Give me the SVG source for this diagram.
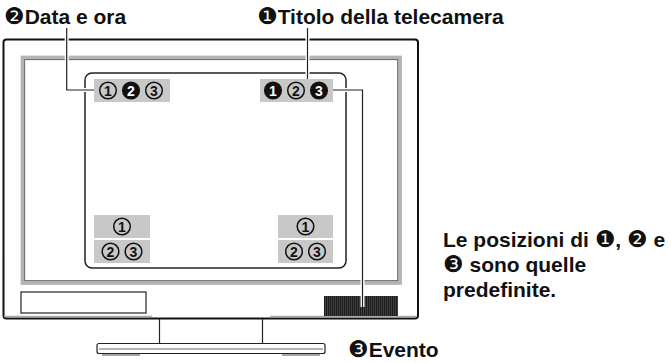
<svg xmlns="http://www.w3.org/2000/svg" xmlns:xlink="http://www.w3.org/1999/xlink" width="671" height="363" viewBox="0 0 671 363">
<style>
.lbl{font-family:"Liberation Sans",Arial,sans-serif;font-weight:bold;font-size:21px;fill:#111}
.sym{font-family:"DejaVu Sans",sans-serif;font-weight:normal;font-size:23px}
.box{fill:#c8c8c8}
.frame{fill:none;stroke:#111;stroke-width:2}
.thin{fill:none;stroke:#222;stroke-width:1.2}
.halo{fill:none;stroke:#fff;stroke-width:4}
.conn{fill:none;stroke:#222;stroke-width:1.2}
.co{fill:none;stroke:#111;stroke-width:1.5}
.cf{fill:#111;stroke:#111;stroke-width:1.5}
.d{font-family:"Liberation Sans",Arial,sans-serif;font-weight:bold;font-size:14px;text-anchor:middle;fill:#111}
.dw{font-family:"Liberation Sans",Arial,sans-serif;font-weight:bold;font-size:14px;text-anchor:middle;fill:#fff}
</style>
<defs>
<pattern id="grill" width="2" height="4" patternUnits="userSpaceOnUse">
<rect width="2" height="4" fill="#1c1c1c"/>
<rect x="1.4" width="0.5" height="4" fill="#666"/>
</pattern>
<path id="c1" d="M66.7,28 V90 H94"/>
<path id="c2" d="M307.5,28 V79"/>
<path id="c3" d="M333,90 H362.5 V307"/>
</defs>

<g id="monitor">
<rect x="3.5" y="39.5" width="414.5" height="279" rx="3" class="frame"/>
<path d="M4,316.5 H152 M270,316.5 H417" stroke="#aaa" stroke-width="1.5" fill="none"/>
<rect x="22.5" y="57.5" width="377.5" height="225.5" fill="none" stroke="#b4b4b4" stroke-width="3.8"/>
<rect x="24.7" y="59.7" width="373" height="221" fill="none" stroke="#444" stroke-width="0.8"/>
<rect x="85" y="73" width="261" height="195" rx="7" fill="none" stroke="#222" stroke-width="1.5"/>
<rect x="21" y="292" width="125" height="21" class="thin"/>
<rect x="324" y="296" width="74" height="20" fill="url(#grill)"/>
</g>

<g id="stand">
<path d="M159.5,319 V343.5 M262.5,319 V343.5" class="thin"/>
<rect x="97" y="343.5" width="228" height="10" rx="2" fill="#fff" stroke="#222" stroke-width="1.2"/>
<line x1="99" y1="349" x2="323" y2="349" stroke="#999" stroke-width="1.5"/>
<path d="M102,355 H140 M282,355 H320" stroke="#888" stroke-width="1.5" fill="none"/>
</g>

<g id="pos-top-left">
<rect x="94" y="79" width="76" height="23" class="box"/>
<circle cx="108" cy="90.5" r="8.3" class="co"/><text x="108" y="95.5" class="d">1</text>
<circle cx="131" cy="90.5" r="8.3" class="cf"/><text x="131" y="95.5" class="dw">2</text>
<circle cx="154" cy="90.5" r="8.3" class="co"/><text x="154" y="95.5" class="d">3</text>
</g>
<g id="pos-top-right">
<rect x="260" y="79" width="73" height="23" class="box"/>
<circle cx="273" cy="90.5" r="8.3" class="cf"/><text x="273" y="95.5" class="dw">1</text>
<circle cx="296" cy="90.5" r="8.3" class="co"/><text x="296" y="95.5" class="d">2</text>
<circle cx="319" cy="90.5" r="8.3" class="cf"/><text x="319" y="95.5" class="dw">3</text>
</g>
<g id="pos-bottom-left">
<rect x="94" y="215" width="56" height="23" class="box"/>
<rect x="94" y="240" width="56" height="23" class="box"/>
<circle cx="122" cy="226.5" r="8.3" class="co"/><text x="122" y="231.5" class="d">1</text>
<circle cx="110.5" cy="251.5" r="8.3" class="co"/><text x="110.5" y="256.5" class="d">2</text>
<circle cx="133.5" cy="251.5" r="8.3" class="co"/><text x="133.5" y="256.5" class="d">3</text>
</g>
<g id="pos-bottom-right">
<rect x="278" y="215" width="55" height="23" class="box"/>
<rect x="278" y="240" width="55" height="23" class="box"/>
<circle cx="305.5" cy="226.5" r="8.3" class="co"/><text x="305.5" y="231.5" class="d">1</text>
<circle cx="294" cy="251.5" r="8.3" class="co"/><text x="294" y="256.5" class="d">2</text>
<circle cx="317" cy="251.5" r="8.3" class="co"/><text x="317" y="256.5" class="d">3</text>
</g>

<g id="connectors">
<use xlink:href="#c1" class="halo"/>
<use xlink:href="#c2" class="halo"/>
<use xlink:href="#c3" class="halo"/>
<use xlink:href="#c1" class="conn"/>
<use xlink:href="#c2" class="conn"/>
<use xlink:href="#c3" class="conn"/>
</g>

<g id="label-data">
<text x="4" y="24" class="lbl"><tspan class="sym">❷</tspan>Data e ora</text>
</g>
<g id="label-titolo">
<text x="257" y="24" class="lbl"><tspan class="sym">❶</tspan>Titolo della telecamera</text>
</g>
<g id="label-evento">
<text x="348" y="357" class="lbl"><tspan class="sym">❸</tspan>Evento</text>
</g>
<g id="note">
<text class="lbl"><tspan x="443" y="247">Le posizioni di <tspan class="sym">❶</tspan>, <tspan class="sym">❷</tspan> e</tspan><tspan x="443" y="272"><tspan class="sym">❸</tspan> sono quelle</tspan><tspan x="443" y="297">predefinite.</tspan></text>
</g>
</svg>
